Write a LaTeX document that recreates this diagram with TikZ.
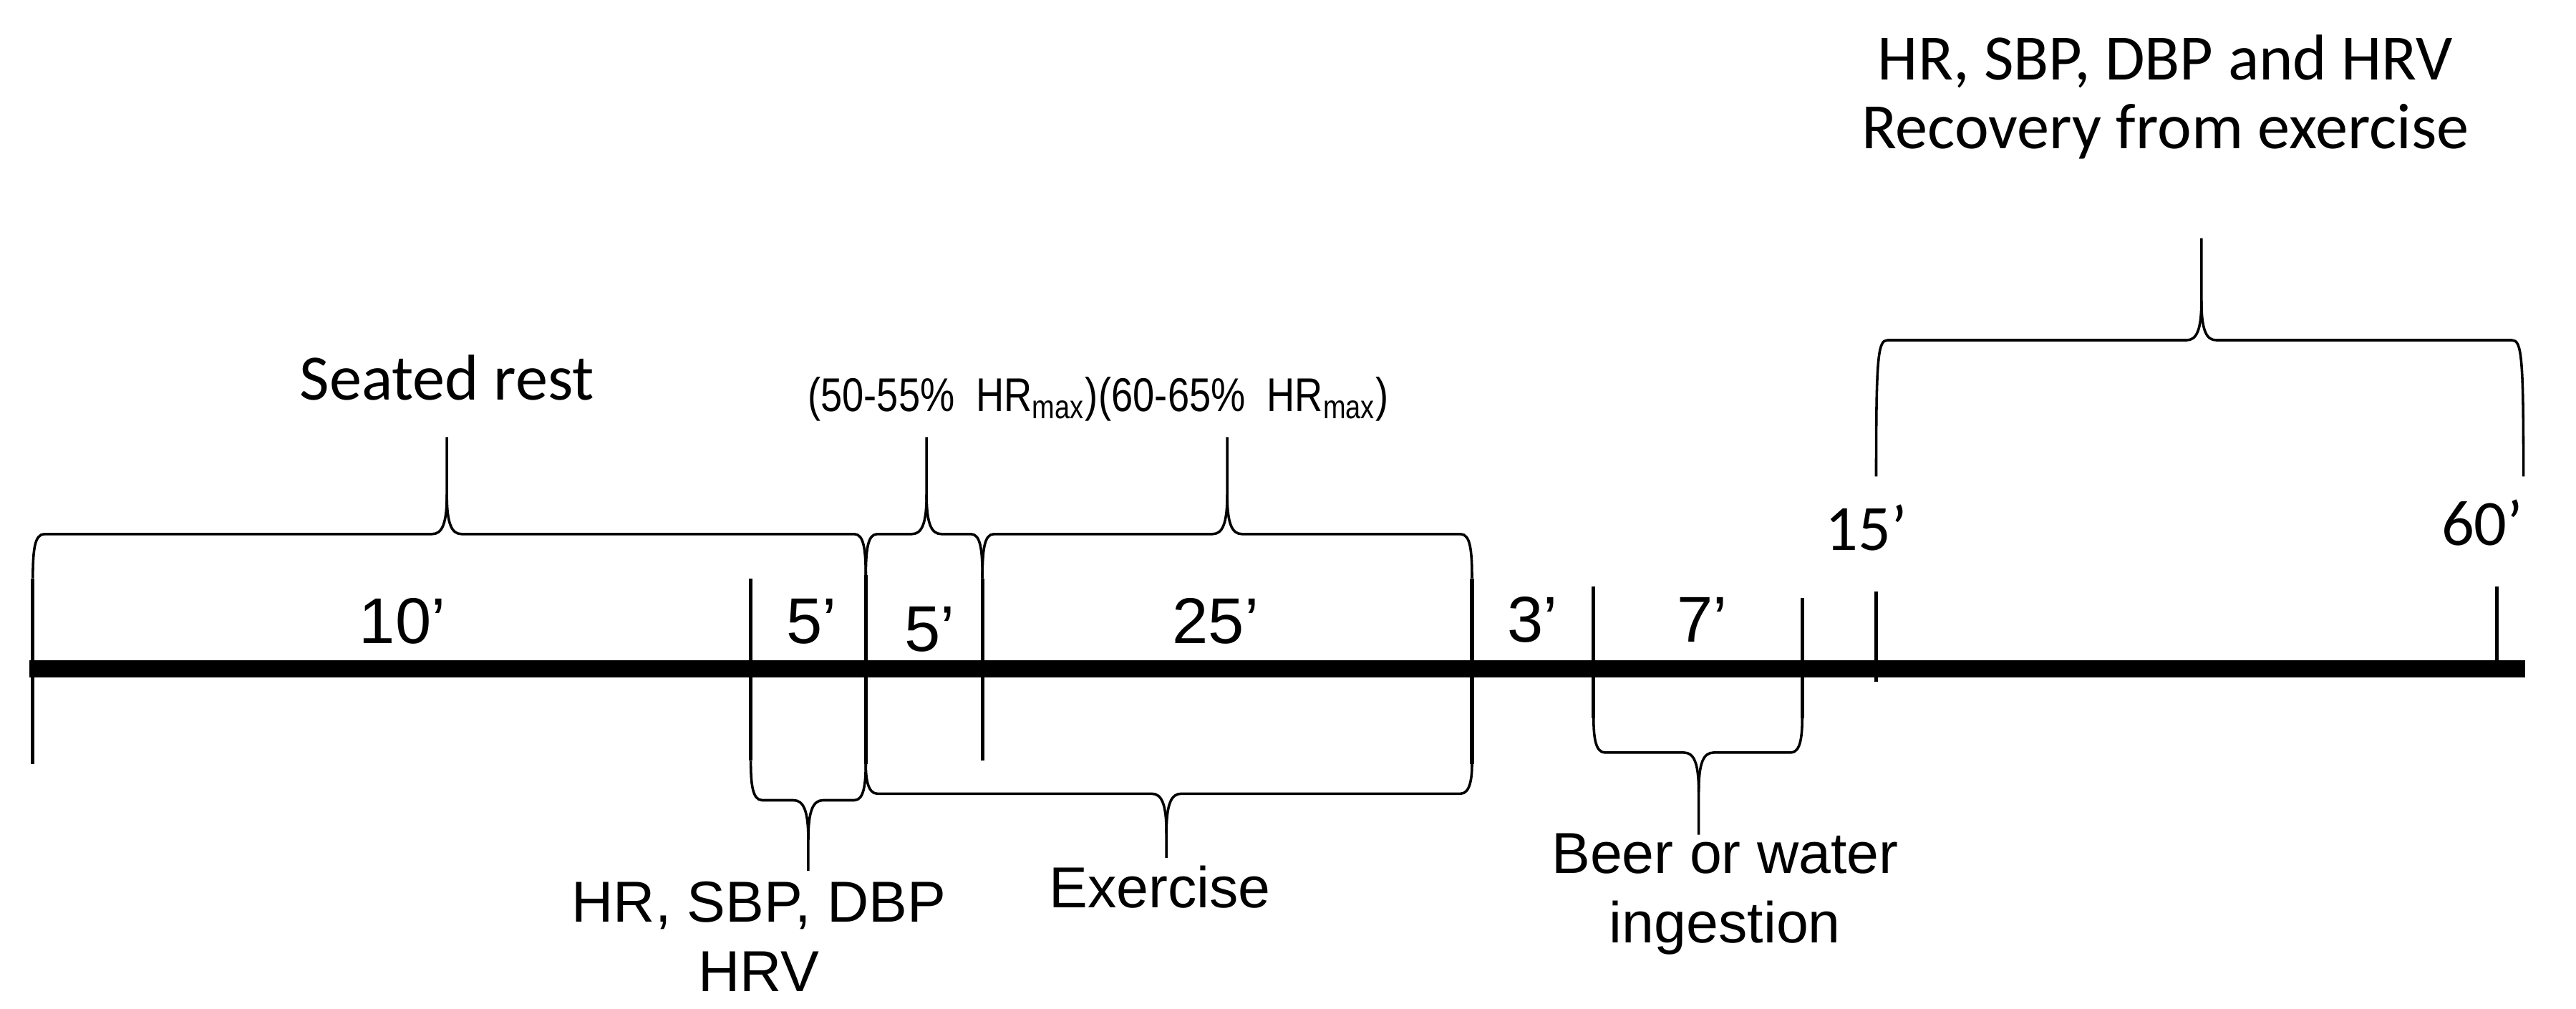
\documentclass[tikz,border=0pt]{standalone}
\usepackage{fontspec}
\setmainfont{Liberation Sans}
\newfontfamily\calfont{Carlito}
\newfontfamily\narrowfont[FakeStretch=0.82]{Liberation Sans}
\usetikzlibrary{positioning}

\tikzset{
  axis/.style={line width=7.4pt},
  tick/.style={line width=1.6pt},
  brc/.style={line width=1.1pt, line join=round},
  lbl/.style={inner sep=0pt, align=center, font=\fontsize{25}{30}\selectfont},
  num/.style={inner sep=0pt, font=\fontsize{28}{30}\selectfont},
  small/.style={inner sep=0pt, font=\narrowfont\fontsize{20.5}{22}\selectfont},
  cal/.style={inner sep=0pt, align=center, font=\calfont\fontsize{28}{30}\selectfont},
}

% brace: left x, right x, tip x, flat y, arm end y, tip end y
\newcommand{\timebrace}[6]{%
  \pgfmathsetmacro{\bd}{sign(#6-#4)}
  \draw[brc] (#1,#5) .. controls (#1,#4-\bd*10) and (#1+1,#4) .. (#1+7,#4)
    -- (#3-9,#4) .. controls (#3-3,#4) and (#3,#4+\bd*6) .. (#3,#4+\bd*24) -- (#3,#6);
  \draw[brc] (#2,#5) .. controls (#2,#4-\bd*10) and (#2-1,#4) .. (#2-7,#4)
    -- (#3+9,#4) .. controls (#3+3,#4) and (#3,#4+\bd*6) .. (#3,#4+\bd*24);
}

\begin{document}
\begin{tikzpicture}[x=0.025cm, y=-0.025cm]
  \useasboundingbox (0,0) rectangle (1568,614);

  % time line
  \draw[axis] (18,407) -- (1537,407);

  \draw[tick] (20,352) -- (20,465);
  \draw[tick] (457,352) -- (457,463);
  \draw[tick] (527,350) -- (527,465);
  \draw[tick] (598,352) -- (598,463);
  \draw[tick] (896,352) -- (896,465);
  \draw[tick] (970,357) -- (970,437);
  \draw[tick] (1097,364) -- (1097,437);
  \draw[tick] (1142,360) -- (1142,415);
  \draw[tick] (1520,357) -- (1520,407);

  % braces above
  \timebrace{20}{527}{272}{325}{352}{266}
  \timebrace{527}{598}{564}{325}{352}{266}
  \timebrace{598}{896}{747}{325}{352}{266}
  \timebrace{1142}{1536}{1340}{207}{290}{145}

  % braces below
  \timebrace{457}{527}{492}{487}{463}{530}
  \timebrace{527}{896}{710}{483}{465}{522}
  \timebrace{970}{1097}{1034}{458}{437}{508}

  % durations
  \node[num] (d10) at (245,378) {10’};
  \node[num] (d5a) at (494,378) {5’};
  \node[num] (d5b) at (566,383) {5’};
  \node[num] (d25) at (740,378) {25’};
  \node[num] (d3)  at (933,377) {3’};
  \node[num] (d7)  at (1036,377) {7’};
  \node[cal] (t15) at (1136,321) {15’};
  \node[cal] (t60) at (1511,318) {60’};

  % phases
  \node[cal] (rest) at (272,230) {Seated rest};
  \node[small] (low) at (580,243) {(50-55\%\ \ HR\textsubscript{max})};
  \node[small] (high) at (757,243) {(60-65\%\ \ HR\textsubscript{max})};
  \node[lbl] (base) at (462,570) {HR, SBP, DBP\\HRV};
  \node[lbl] (exer) at (706,540) {Exercise};
  \node[lbl] (drink) at (1050,544) {Beer or water\\ingestion};
  \node[cal] (recov) at (1318,59) {HR, SBP, DBP and HRV\\Recovery from exercise};

\end{tikzpicture}
\end{document}
